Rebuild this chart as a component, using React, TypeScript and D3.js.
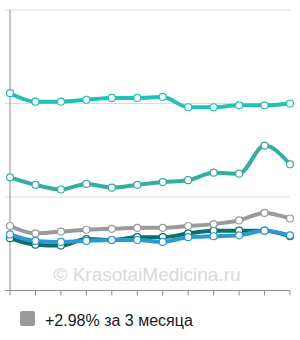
import { useEffect, useRef } from 'react'
import * as d3 from 'd3'

// 12 points, no labels on the x axis
const months = d3.range(12)
const yTicks = [0, 1, 2, 3]

const topSeries = [2.11, 2.02, 2.02, 2.04, 2.06, 2.06, 2.07, 1.96, 1.96, 1.98, 1.98, 2.0]
const midSeries = [1.21, 1.13, 1.08, 1.14, 1.1, 1.13, 1.16, 1.18, 1.26, 1.25, 1.55, 1.35]
const graySeries = [0.69, 0.61, 0.63, 0.65, 0.66, 0.67, 0.67, 0.69, 0.71, 0.75, 0.83, 0.77]
const blueSeries = [0.6, 0.53, 0.52, 0.53, 0.54, 0.54, 0.52, 0.57, 0.58, 0.59, 0.64, 0.59]
const darkSeries = [0.56, 0.49, 0.48, 0.55, 0.54, 0.57, 0.57, 0.61, 0.64, 0.64, 0.64, 0.58]

const series = [
  { values: topSeries, color: '#21c1b9' },
  { values: midSeries, color: '#36ae9e' },
  { values: graySeries, color: '#9a9a9a' },
  { values: blueSeries, color: '#2a9ad4' },
  { values: darkSeries, color: '#0b706c' },
]

const legendLabel = '+2.98% за 3 месяца'
const watermark = '© KrasotaiMedicina.ru'

export default function App() {
  const ref = useRef<SVGSVGElement | null>(null)

  useEffect(() => {
    if (!ref.current) {return}
    const width = 300
    const height = 340
    const svg = d3.select(ref.current)
    svg.selectAll('*').remove()

    const margin = { top: 10, right: 10, bottom: 49.5, left: 10 }
    const x = d3.scaleLinear().domain([0, 11]).range([margin.left, width - margin.right])
    const y = d3.scaleLinear().domain([0, 3]).range([height - margin.bottom, margin.top])

    svg.attr('width', width).attr('height', height)

    // gridlines
    svg
      .append('g')
      .selectAll('line')
      .data(yTicks.slice(1))
      .join('line')
      .attr('x1', margin.left - 5)
      .attr('x2', width - margin.right)
      .attr('y1', (d) => y(d))
      .attr('y2', (d) => y(d))
      .attr('stroke', '#dcdcdc')
      .attr('stroke-width', 1)

    // watermark
    svg
      .append('text')
      .attr('x', 147)
      .attr('y', 281)
      .attr('text-anchor', 'middle')
      .attr('fill', '#d9d9d9')
      .style('font-family', 'Liberation Sans, Arial, sans-serif')
      .style('font-size', '19px')
      .text(watermark)

    // axes
    svg
      .append('line')
      .attr('x1', margin.left)
      .attr('x2', margin.left)
      .attr('y1', y(3))
      .attr('y2', y(0))
      .attr('stroke', '#8c8c8c')
      .attr('stroke-width', 1)

    svg
      .append('line')
      .attr('x1', margin.left - 5)
      .attr('x2', width - margin.right)
      .attr('y1', y(0))
      .attr('y2', y(0))
      .attr('stroke', '#8c8c8c')
      .attr('stroke-width', 1)

    svg
      .append('g')
      .selectAll('line')
      .data(months)
      .join('line')
      .attr('x1', (d) => x(d))
      .attr('x2', (d) => x(d))
      .attr('y1', y(0))
      .attr('y2', y(0) + 5)
      .attr('stroke', '#8c8c8c')
      .attr('stroke-width', 1)

    const line = d3
      .line<number>()
      .x((_, i) => x(i))
      .y((d) => y(d))
      .curve(d3.curveMonotoneX)

    // draw bottom series first so the top ones overlap like the original
    const order = [...series].reverse()
    order.forEach((s) => {
      svg
        .append('path')
        .datum(s.values)
        .attr('fill', 'none')
        .attr('stroke', s.color)
        .attr('stroke-width', 4)
        .attr('stroke-linejoin', 'round')
        .attr('d', line)
    })
    order.forEach((s) => {
      svg
        .append('g')
        .selectAll('circle')
        .data(s.values)
        .join('circle')
        .attr('cx', (_, i) => x(i))
        .attr('cy', (d) => y(d))
        .attr('r', 3.5)
        .attr('fill', '#fff')
        .attr('stroke', s.color)
        .attr('stroke-width', 1.2)
    })

    // legend
    svg
      .append('rect')
      .attr('x', 20)
      .attr('y', 311)
      .attr('width', 15)
      .attr('height', 15)
      .attr('rx', 2)
      .attr('fill', '#9a9a9a')

    svg
      .append('text')
      .attr('x', 45)
      .attr('y', 326)
      .attr('fill', '#1a1a1a')
      .style('font-family', 'Liberation Sans, Arial, sans-serif')
      .style('font-size', '16px')
      .text(legendLabel)
  }, [])

  return (
    <div style={{ position: 'absolute', left: 0, top: 0, width: 300, height: 340, background: '#fff' }}>
      <svg ref={ref} role="img" aria-label="Line chart" style={{ display: 'block' }} />
    </div>
  )
}
